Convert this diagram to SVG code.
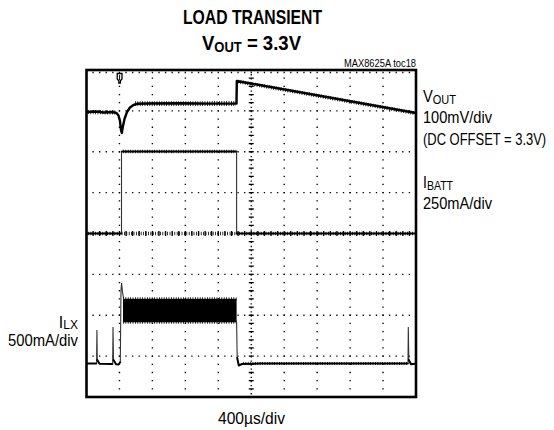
<svg xmlns="http://www.w3.org/2000/svg" width="554" height="430" viewBox="0 0 554 430">
<style>
text{font-family:"Liberation Sans",Arial,sans-serif;fill:#000}
.t{font-weight:bold;font-size:20px}
.l{font-size:16px}
.s{font-size:12px}
.hdot{stroke:#000;stroke-width:1.4;stroke-dasharray:1.3 5.29;stroke-dashoffset:0.65;fill:none}
.vdot{stroke:#000;stroke-width:1.4;stroke-dasharray:1.3 6.875;stroke-dashoffset:0.65;fill:none}
.tr{fill:none;stroke:#000;stroke-linejoin:round;stroke-linecap:round}
.fz{fill:none;stroke:#000;stroke-dasharray:0.8 1.6}
.edge{fill:none;stroke:#333;stroke-width:1.1}
</style>
<rect width="554" height="430" fill="#fff"/>

<g id="titles">
<text class="t" x="252.5" y="24" text-anchor="middle" textLength="139" lengthAdjust="spacingAndGlyphs">LOAD TRANSIENT</text>
<text class="t" x="251.5" y="50" text-anchor="middle" textLength="99" lengthAdjust="spacingAndGlyphs">V<tspan font-size="14" dy="2">OUT</tspan><tspan dy="-2"> = 3.3V</tspan></text>
<text x="416" y="67" font-size="10" text-anchor="end" textLength="72" lengthAdjust="spacingAndGlyphs">MAX8625A toc18</text>
</g>

<g id="grid">
<line class="hdot" x1="86.5" x2="416" y1="72.5" y2="72.5"/>
<line class="hdot" x1="86.5" x2="416" y1="110.9" y2="110.9"/>
<line class="hdot" x1="86.5" x2="416" y1="151.8" y2="151.8"/>
<line class="hdot" x1="86.5" x2="416" y1="192.6" y2="192.6"/>
<line class="hdot" x1="86.5" x2="416" y1="274.4" y2="274.4"/>
<line class="hdot" x1="86.5" x2="416" y1="315.3" y2="315.3"/>
<line class="hdot" x1="86.5" x2="416" y1="356.1" y2="356.1"/>
<line class="vdot" y1="70" y2="397" x1="119.45" x2="119.45"/>
<line class="vdot" y1="70" y2="397" x1="152.4" x2="152.4"/>
<line class="vdot" y1="70" y2="397" x1="185.35" x2="185.35"/>
<line class="vdot" y1="70" y2="397" x1="218.3" x2="218.3"/>
<line class="vdot" y1="70" y2="397" x1="284.2" x2="284.2"/>
<line class="vdot" y1="70" y2="397" x1="317.15" x2="317.15"/>
<line class="vdot" y1="70" y2="397" x1="350.1" x2="350.1"/>
<line class="vdot" y1="70" y2="397" x1="383.05" x2="383.05"/>
<line x1="251.25" x2="251.25" y1="70" y2="397" stroke="#000" stroke-width="1.3" stroke-dasharray="1.3 2.79"/>
<line x1="251.25" x2="251.25" y1="70" y2="397" stroke="#000" stroke-width="5" stroke-dasharray="1.3 6.875" stroke-dashoffset="0.65"/>
<line x1="86.5" x2="416" y1="233.5" y2="233.5" stroke="#000" stroke-width="5" stroke-dasharray="1.3 5.29" stroke-dashoffset="0.65"/>
<rect x="86.5" y="70" width="329.5" height="327" fill="none" stroke="#000" stroke-width="2.6"/>
</g>

<g id="marker">
<path d="M117.2,73.5 h4.8 v5.5 l-1.6,1.8 v2.2 h-1.6 v-2.2 l-1.6,-1.8 z" fill="#fff" stroke="#000" stroke-width="1.3"/>
<line x1="119.6" y1="75" x2="119.6" y2="80" stroke="#000" stroke-width="1"/>
</g>

<g id="vout">
<polyline class="tr" stroke-width="2.4" points="87,112 96,111.5 104,112.5 112,112 116.5,113 118.5,115.5 120,121 121,130 121.8,133 122.8,127 124.5,119 127,112 130,107.5 133.5,105 137,103.8 150,103.5 180,103.2 210,103.6 236.5,103.5 236.8,81 416,113"/>
<polyline class="fz" stroke-width="4.2" points="88,112 116,112.5"/>
<polyline class="fz" stroke-width="4.8" points="135,103.6 236,103.5"/>
<polyline class="fz" stroke-width="3.8" points="238,81.5 414,113"/>
</g>

<g id="ibatt">
<polyline class="tr" stroke-width="2" points="87,233.5 121.3,233.5"/>
<line class="edge" x1="121.5" y1="233.5" x2="121.5" y2="151.5"/>
<polyline class="tr" stroke-width="2" points="122,151.5 236.4,151.5"/>
<line class="edge" x1="236.6" y1="151.5" x2="236.6" y2="233.5"/>
<polyline class="tr" stroke-width="2" points="236.6,233.5 416,233.5"/>
<polyline class="fz" stroke-width="3.4" points="123,151.5 236,151.5"/>
<polyline class="fz" stroke-width="3.4" points="88,233.5 414,233.5"/>
</g>

<g id="ilx">
<polyline class="tr" stroke-width="2" points="87,363.5 96.3,363.5"/>
<polyline class="edge" points="96.6,363 96.9,330 97.3,360"/>
<polyline class="tr" stroke-width="2" points="97.3,360 99.5,363.8 112.4,364"/>
<polyline class="edge" points="112.7,363.5 113,327 113.5,360"/>
<polyline class="tr" stroke-width="2" points="113.5,360 116,364.3 118.5,364.5 120.3,362"/>
<polyline class="edge" points="120.3,362 121,290 121.6,283 122.5,292 123.5,298"/>
<rect x="123" y="298.8" width="113.6" height="23.5" fill="#000"/>
<polyline class="fz" stroke-width="3" points="123,298.8 236.5,298.8"/>
<polyline class="fz" stroke-width="3" points="123,322.3 236.5,322.3"/>
<polyline class="edge" points="236.6,322 237.2,358"/>
<polyline class="tr" stroke-width="2" points="237.2,358 238.8,365.5 242,364 260,363.6 300,363.4 350,363.6 407.8,363.6"/>
<polyline class="fz" stroke-width="3" points="243,363.6 407,363.6"/>
<polyline class="edge" points="408,363.5 408.3,327 408.8,360"/>
<polyline class="tr" stroke-width="2" points="408.8,360 411,364.2 415,363.8"/>
</g>

<g id="labels">
<text class="l" x="423" y="102" textLength="33" lengthAdjust="spacingAndGlyphs">V<tspan class="s" dy="1.5">OUT</tspan></text>
<text class="l" x="423" y="123" textLength="69" lengthAdjust="spacingAndGlyphs">100mV/div</text>
<text class="l" transform="translate(423,145) scale(0.81,1)">(DC OFFSET = 3.3V)</text>
<text class="l" x="423" y="188" textLength="30" lengthAdjust="spacingAndGlyphs">I<tspan class="s" dy="1.5">BATT</tspan></text>
<text class="l" x="423" y="209" textLength="69" lengthAdjust="spacingAndGlyphs">250mA/div</text>
<text class="l" x="78" y="327.5" text-anchor="end">I<tspan class="s" dy="1.5">LX</tspan></text>
<text class="l" x="78" y="346" text-anchor="end" textLength="70" lengthAdjust="spacingAndGlyphs">500mA/div</text>
<text class="l" x="251.5" y="424" text-anchor="middle" textLength="67" lengthAdjust="spacingAndGlyphs">400µs/div</text>
</g>
</svg>
